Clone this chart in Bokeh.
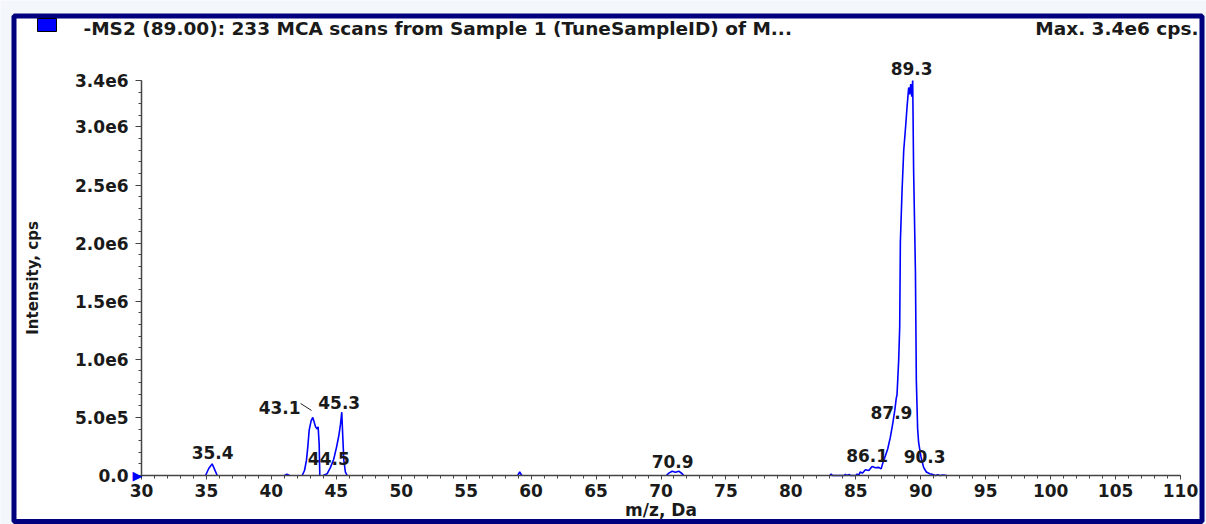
from bokeh.plotting import figure
from bokeh.models import (Range1d, FixedTicker, LabelSet, Label, BoxAnnotation,
                          ColumnDataSource)
from bokeh.core.properties import value
from bokeh.embed import file_html
from bokeh.resources import INLINE

# ---------------- data ----------------
title_left = "-MS2 (89.00): 233 MCA scans from Sample 1 (TuneSampleID) of M..."
title_right = "Max. 3.4e6 cps."
x_label = "m/z, Da"
y_label = "Intensity, cps"

x_ticks = [30, 35, 40, 45, 50, 55, 60, 65, 70, 75, 80, 85, 90, 95, 100, 105, 110]
y_ticks = [0.0, 0.5e6, 1.0e6, 1.5e6, 2.0e6, 2.5e6, 3.0e6, 3.4e6]
y_tick_labels = ["0.0", "5.0e5", "1.0e6", "1.5e6", "2.0e6", "2.5e6", "3.0e6", "3.4e6"]

# spectrum segments (m/z, intensity in 1e6 cps)
mz_35 = [34.93, 35.18, 35.44, 35.56, 35.83]
int_35 = [0.0, 0.06, 0.10, 0.07, 0.0]

mz_41 = [41.0, 41.2, 41.4]
int_41 = [0.0, 0.01, 0.0]

mz_43 = [42.37, 42.55, 42.70, 42.80, 42.91, 43.06, 43.19, 43.27, 43.40, 43.53, 43.60, 43.68, 43.73]
int_43 = [0.0, 0.043, 0.13, 0.24, 0.39, 0.47, 0.50, 0.47, 0.42, 0.40, 0.42, 0.27, 0.0]

mz_45 = [43.99, 44.29, 44.55, 44.80, 45.01, 45.19, 45.32, 45.42, 45.50, 45.58, 45.70, 45.84]
int_45 = [0.0, 0.015, 0.07, 0.14, 0.24, 0.34, 0.44, 0.545, 0.33, 0.13, 0.03, 0.0]

mz_59 = [58.97, 59.12, 59.28]
int_59 = [0.0, 0.03, 0.0]

mz_71 = [70.42, 70.60, 70.86, 71.11, 71.37, 71.63, 71.75]
int_71 = [0.0, 0.02, 0.037, 0.028, 0.037, 0.015, 0.0]

mz_89 = [83.0, 83.1, 83.2, 84.1, 84.2, 84.3, 84.5, 84.6, 85.0, 85.1, 85.2, 85.35, 85.5,
         85.74, 86.0, 86.25, 86.51, 86.77, 86.95, 87.10, 87.28, 87.46, 87.66, 87.84,
         88.0, 88.12, 88.17, 88.30, 88.38, 88.43, 88.56, 88.69, 88.84, 88.95, 89.07,
         89.15, 89.23, 89.31, 89.38, 89.45, 89.59, 89.66, 89.76, 89.84, 90.02, 90.22,
         90.43, 90.69, 90.87, 91.12, 91.3, 91.5, 91.7, 92.0]
int_89 = [0.0, 0.012, 0.0, 0.0, 0.01, 0.0, 0.008, 0.0, 0.0, 0.012, 0.0, 0.03, 0.02,
          0.05, 0.043, 0.077, 0.066, 0.07, 0.057, 0.115, 0.17, 0.23, 0.33, 0.445,
          0.56, 0.67, 0.69, 0.99, 1.28, 2.01, 2.45, 2.80, 3.01, 3.18, 3.34,
          3.28, 3.37, 3.26, 3.40, 2.63, 1.76, 0.82, 0.40, 0.28, 0.16, 0.07,
          0.03, 0.015, 0.01, 0.0, 0.006, 0.0, 0.005, 0.0]

# peak annotations: label m/z and the apex intensity (1e6 cps) they sit on
peak_mz = [35.4, 43.1, 44.5, 45.3, 70.9, 86.1, 87.9, 89.3, 90.3]
peak_int = [0.11, 0.50, 0.05, 0.55, 0.03, 0.08, 0.45, 3.40, 0.10]
peak_text = ["35.4", "43.1", "44.5", "45.3", "70.9", "86.1", "87.9", "89.3", "90.3"]

# ---------------- layout (pixels) ----------------
W, H = 1206, 524
AX_LEFT, AX_RIGHT = 141, 1180     # pixel of x=30 and x=110
AX_BOTTOM, AX_TOP = 475, 80       # pixel of y=0 and y=3.4e6
X0, X1 = 30, 110
Y0, Y1 = 0.0, 3.4e6
SCALE = 1e6

xpp = (X1 - X0) / (AX_RIGHT - AX_LEFT)
ypp = (Y1 - Y0) / (AX_BOTTOM - AX_TOP)
x_range = Range1d(X0 - AX_LEFT * xpp, X1 + (W - AX_RIGHT) * xpp)
y_range = Range1d(Y0 - (H - AX_BOTTOM) * ypp, Y1 + AX_TOP * ypp)

p = figure(width=W, height=H, output_backend="svg", toolbar_location=None,
           x_range=x_range, y_range=y_range,
           min_border_left=0, min_border_right=0, min_border_top=0,
           min_border_bottom=0, background_fill_color="#f3f6fb",
           border_fill_color="#f3f6fb", outline_line_color=None)
p.grid.visible = False


def sx(px):
    return px


def sy(py):
    return H - py


# outer border and the white panel
p.add_layout(BoxAnnotation(left=sx(13.5), right=sx(1201.5), bottom=sy(521), top=sy(15.5),
                           left_units="screen", right_units="screen",
                           bottom_units="screen", top_units="screen",
                           fill_color="white", fill_alpha=1, line_color="#00007f",
                           line_width=5, line_alpha=1, level="underlay"))

font = value("DejaVu Sans")
txt_color = "#1a1a1a"

ax = p.xaxis[0]
ax.fixed_location = Y0
ax.ticker = FixedTicker(ticks=x_ticks, minor_ticks=list(range(30, 111)))
ax.bounds = (X0, X1)
ax.axis_line_color = "#444444"
ax.axis_line_width = 1.5
ax.major_tick_line_color = "#444444"
ax.minor_tick_line_color = "#444444"
ax.major_tick_in = 0
ax.major_tick_out = 4
ax.minor_tick_in = 0
ax.minor_tick_out = 3
ax.major_label_standoff = 4
ax.major_label_text_font = "DejaVu Sans"
ax.major_label_text_font_style = "bold"
ax.major_label_text_font_size = "17px"
ax.major_label_text_color = txt_color
ax.axis_label = x_label
ax.axis_label_text_font = "DejaVu Sans"
ax.axis_label_text_font_style = "bold"
ax.axis_label_text_font_size = "17px"
ax.axis_label_text_color = txt_color
ax.axis_label_standoff = 0

ay = p.yaxis[0]
ay.fixed_location = X0
ay.ticker = FixedTicker(ticks=y_ticks, minor_ticks=[i * 1e5 for i in range(35)])
ay.major_label_overrides = {t: l for t, l in zip(y_ticks, y_tick_labels)}
ay.bounds = (Y0, Y1)
ay.axis_line_color = "#444444"
ay.axis_line_width = 1.5
ay.major_tick_line_color = "#444444"
ay.minor_tick_line_color = "#444444"
ay.major_tick_in = 0
ay.major_tick_out = 6
ay.minor_tick_in = 0
ay.minor_tick_out = 3
ay.major_label_standoff = 7
ay.major_label_text_font = "DejaVu Sans"
ay.major_label_text_font_style = "bold"
ay.major_label_text_font_size = "17px"
ay.major_label_text_color = txt_color
ay.axis_label = y_label
ay.axis_label_text_font = "DejaVu Sans"
ay.axis_label_text_font_style = "bold"
ay.axis_label_text_font_size = "15px"
ay.axis_label_text_color = txt_color
ay.axis_label_standoff = 30

# spectrum
xs = [mz_35, mz_41, mz_43, mz_45, mz_59, mz_71, mz_89]
ys = [[v * SCALE for v in s] for s in [int_35, int_41, int_43, int_45, int_59, int_71, int_89]]
p.multi_line(xs=xs, ys=ys, line_color="#0000ff", line_width=1.6)

# peak labels
x_off = [1, -32, -1, -1, 0, -3, -2, 0, 0]
y_off = [10, 10, 11, 9, 10.5, 10.7, 10.7, 12, 7]
src = ColumnDataSource(dict(x=peak_mz, y=[v * SCALE for v in peak_int], text=peak_text,
                            xo=x_off, yo=y_off))
p.add_layout(LabelSet(x="x", y="y", text="text", source=src, x_offset="xo", y_offset="yo",
                      text_align="center", text_baseline="middle", text_font=font,
                      text_font_style="bold", text_font_size="17px", text_color=txt_color))

# leader line for 43.1
p.segment(x0=[peak_mz[1] - 0.85], y0=[peak_int[1] * SCALE + 0.12e6],
          x1=[peak_mz[1] - 0.01], y1=[peak_int[1] * SCALE + 0.06e6],
          line_color="#222222", line_width=1)

# header
p.add_layout(BoxAnnotation(left=sx(37), right=sx(56), bottom=sy(31), top=sy(18),
                           left_units="screen", right_units="screen",
                           bottom_units="screen", top_units="screen",
                           fill_color="#0000ff", fill_alpha=1, line_color="black",
                           line_width=1, line_alpha=1))
p.add_layout(Label(x=sx(83), y=sy(28), x_units="screen", y_units="screen", text=title_left,
                   text_baseline="middle", text_align="left", text_font="DejaVu Sans",
                   text_font_style="bold", text_font_size="18.5px", text_color=txt_color))
p.add_layout(Label(x=sx(1198), y=sy(28), x_units="screen", y_units="screen", text=title_right,
                   text_baseline="middle", text_align="right", text_font="DejaVu Sans",
                   text_font_style="bold", text_font_size="18.5px", text_color=txt_color))

# origin marker
p.add_layout(Label(x=X0, y=Y0, x_offset=-4, text="\u25b6", text_align="center",
                   text_baseline="middle", text_color="#0000ff", text_font_size="13px",
                   text_font="DejaVu Sans"))

open("out.html", "w").write(file_html(p, INLINE))
